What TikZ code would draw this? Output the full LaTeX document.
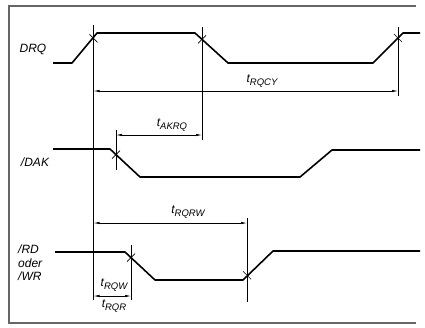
\documentclass[tikz,border=0pt]{standalone}
\usepackage{fontspec}
\setmainfont{Liberation Sans}
\usetikzlibrary{arrows.meta, positioning}
\tikzset{
  frame/.style={line width=1.2pt, draw=black!60},
  signal/.style={line width=1.6pt, line join=round},
  dimline/.style={line width=0.6pt},
  dimarrow/.style={line width=0.6pt, {Latex[length=6pt,width=2.4pt]}-{Latex[length=6pt,width=2.4pt]}},
  crossmark/.style={line width=0.6pt},
  signame/.style={font=\itshape\fontsize{12}{13.5}\selectfont, inner sep=0pt, align=left},
  timelabel/.style={font=\itshape\fontsize{12}{13}\selectfont, inner sep=0pt}
}
\newcommand{\tsub}[1]{t\raisebox{-3pt}{\fontsize{9.5}{10}\selectfont #1}}

\begin{document}
\begin{tikzpicture}[x=1pt, y=-1pt]
  \useasboundingbox (0,0) rectangle (425,327);
  \draw[frame] (416,6) -- (9,6) -- (9,323) -- (416,323);

  % signal names
  \node[signame] (drq) at (33,49) {DRQ};
  \node[signame] (dak) at (35,162) {/DAK};
  \node[signame, anchor=north west] (rdwr) at (18,245) {/RD\\oder\\/WR};

  % waveforms
  \draw[signal] (53,63) -- (72,63) -- (97,33) -- (195,33) -- (228,63)
    -- (373,63) -- (403,33) -- (420,33);
  \draw[signal] (53,149) -- (110,149) -- (140,177) -- (300,177)
    -- (332,150) -- (420,150);
  \draw[signal] (55,252) -- (125,252) -- (155,280) -- (243,280)
    -- (273,251) -- (420,251);

  % reference lines
  \coordinate (rqtop) at (93.5,25);
  \coordinate (rqbot) at (93.5,300);
  \coordinate (aktop) at (202,27);
  \coordinate (akbot) at (202,140);
  \coordinate (cytop) at (398,27);
  \coordinate (cybot) at (398,96);
  \coordinate (dktop) at (116,130);
  \coordinate (dkbot) at (116,170);
  \coordinate (rwtop) at (247,218);
  \coordinate (rwbot) at (247,302);
  \coordinate (wrtop) at (131,245);
  \coordinate (wrbot) at (131,300);
  \foreach \a in {rq,ak,cy,dk,rw,wr}
    \draw[dimline] (\a top) -- (\a bot);

  % crossing marks
  \foreach \p in {(93.5,38.4),(398,38),(247,275.3)}
    \draw[crossmark] \p ++(-4,-4) -- ++(8,8);
  \foreach \p in {(202,39.4),(116,154.6),(131,257.6)}
    \draw[crossmark] \p ++(-4,4) -- ++(8,-8);

  % dimension arrows
  \draw[dimarrow] (rqtop |- 0,91) -- (cytop |- 0,91);
  \draw[dimarrow] (dktop |- 0,135) -- (aktop |- 0,135);
  \draw[dimarrow] (rqtop |- 0,223) -- (rwtop |- 0,223);
  \draw[dimarrow] (rqtop |- 0,296) -- (wrtop |- 0,296);

  % time labels
  \node[timelabel] (tcy) at (262,81) {\tsub{RQCY}};
  \node[timelabel] (tak) at (172,125) {\tsub{AKRQ}};
  \node[timelabel] (trw) at (188,212) {\tsub{RQRW}};
  \node[timelabel] (trqw) at (114,285) {\tsub{RQW}};
  \node[timelabel] (trqr) at (114,306) {\tsub{RQR}};
\end{tikzpicture}
\end{document}
